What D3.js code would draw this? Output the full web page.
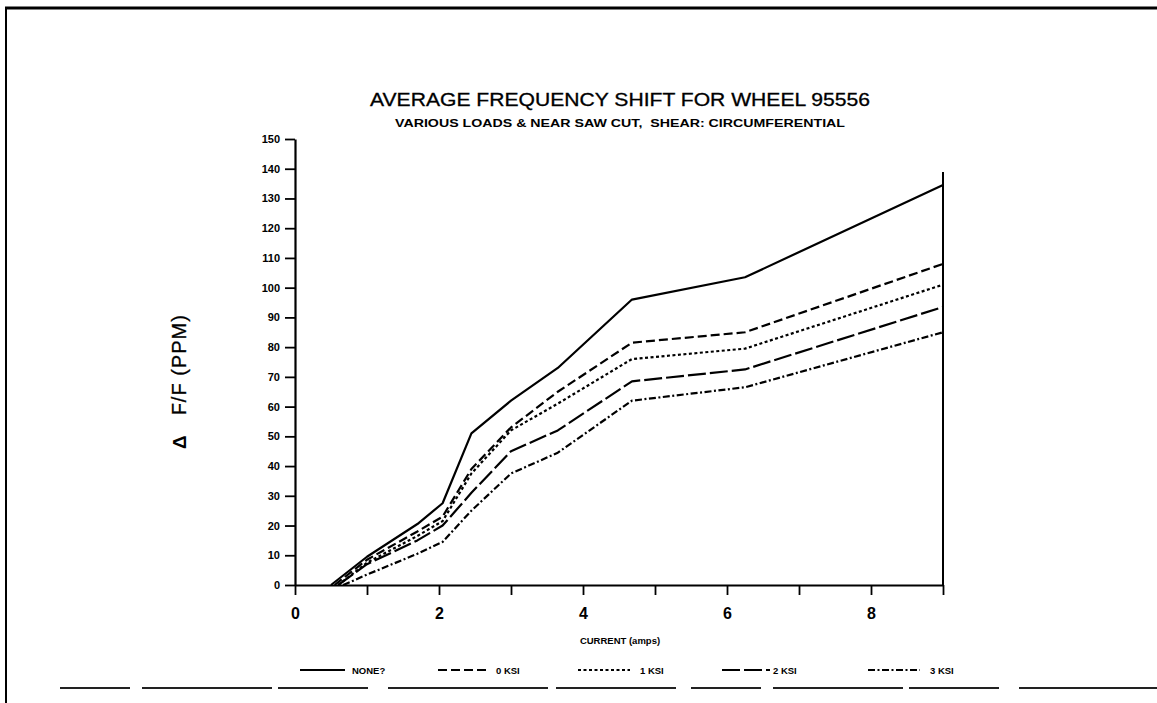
<!DOCTYPE html>
<html><head><meta charset="utf-8">
<script src="https://cdn.jsdelivr.net/npm/d3@7"></script>
<style>body{margin:0;background:#fff}svg{display:block}</style>
</head><body><svg id="c" width="1157" height="703"></svg>
<script>
// ---- data ----
const seriesNames = ["NONE?", "0 KSI", "1 KSI", "2 KSI", "3 KSI"];
const startCurrents = [0.5, 0.55, 0.6, 0.6, 0.67];      // where each curve leaves zero
const currents = [1.0, 1.7, 2.05, 2.45, 3.0, 3.65, 4.68, 6.25, 9.0];
const noneVals = [9.5, 20.5, 27.5, 51, 62, 73, 96, 103.5, 134.5];
const ksi0Vals = [8.5, 18, 23, 39, 53, 65, 81.5, 85, 108];
const ksi1Vals = [7.5, 16.5, 21.5, 37.5, 52, 61, 76, 79.5, 101];
const ksi2Vals = [7, 15, 20, 31, 45, 52, 68.5, 72.5, 93.5];
const ksi3Vals = [3.5, 10.5, 14.5, 25, 37.5, 44.5, 62, 66.5, 85];
const yTickValues = [0,10,20,30,40,50,60,70,80,90,100,110,120,130,140,150];
const xTickValues = [0,1,2,3,4,5,6,7,8,9];
const xTickLabels = ["0","","2","","4","","6","","8",""];
const titleText = "AVERAGE FREQUENCY SHIFT FOR WHEEL 95556";
const subtitleText = "VARIOUS LOADS & NEAR SAW CUT,  SHEAR: CIRCUMFERENTIAL";
const xLabelText = "CURRENT (amps)";

// ---- styles ----
const dashes = [null, "9,4", "3,2.5", "18,4", "7,2.5,2,2.5"];
const legendLineX = [[300,345],[438,490],[578,630],[722,770],[868,920]];
const legendTextX = [352, 496, 640, 773, 930];

const svg = d3.select("#c");
const font = "'Liberation Sans', Arial, Helvetica, sans-serif";

const x = d3.scaleLinear().domain([0, 9]).range([295, 943]);
const y = d3.scaleLinear().domain([0, 150]).range([585, 139]);

// page border
svg.append("line").attr("x1",5).attr("x2",1157).attr("y1",8).attr("y2",8)
  .attr("stroke","#000").attr("stroke-width",3);
svg.append("line").attr("x1",6).attr("x2",6).attr("y1",7).attr("y2",703)
  .attr("stroke","#000").attr("stroke-width",2);
svg.append("line").attr("x1",60).attr("x2",1157).attr("y1",688).attr("y2",688)
  .attr("stroke","#222").attr("stroke-width",2).attr("stroke-dasharray","70,12,130,6,90,20,160,8,120,15");

// titles
svg.append("text").attr("x",620).attr("y",106).attr("text-anchor","middle")
  .attr("font-family",font).attr("font-size",17.5).attr("textLength",500).attr("lengthAdjust","spacingAndGlyphs")
  .attr("stroke","#000").attr("stroke-width",0.3)
  .text(titleText);
svg.append("text").attr("x",620).attr("y",127).attr("text-anchor","middle")
  .attr("font-family",font).attr("font-size",10).attr("font-weight","bold")
  .attr("textLength",450).attr("lengthAdjust","spacingAndGlyphs")
  .style("white-space","pre")
  .text(subtitleText);

// y axis
const yAxis = svg.append("g").attr("transform","translate(295,0)")
  .call(d3.axisLeft(y).tickValues(yTickValues).tickSize(10).tickSizeOuter(0).tickPadding(5));
yAxis.select(".domain").attr("stroke","#000").attr("stroke-width",2.2);
yAxis.selectAll(".tick line").attr("stroke","#000").attr("stroke-width",1.8);
yAxis.selectAll("text").attr("font-family",font).attr("font-size",11).attr("font-weight","bold").attr("fill","#000");

// x axis
const xAxis = svg.append("g").attr("transform","translate(0,585)")
  .call(d3.axisBottom(x).tickValues(xTickValues).tickSize(10).tickSizeOuter(0).tickPadding(13)
    .tickFormat((d,i) => xTickLabels[i]));
xAxis.select(".domain").attr("stroke","#000").attr("stroke-width",2.2);
xAxis.selectAll(".tick line").attr("stroke","#000").attr("stroke-width",1.8);
xAxis.selectAll("text").attr("font-family",font).attr("font-size",16).attr("font-weight","bold").attr("fill","#000");

// right frame line
svg.append("line").attr("x1",x(9)).attr("x2",x(9)).attr("y1",172).attr("y2",y(0))
  .attr("stroke","#000").attr("stroke-width",2);

// axis titles
svg.append("text").attr("x",620).attr("y",644).attr("text-anchor","middle")
  .attr("font-family",font).attr("font-size",9.5).attr("font-weight","bold").text(xLabelText);
const yl = svg.append("text").attr("transform","translate(186,449) rotate(-90)")
  .attr("font-family",font).attr("font-size",20);
yl.append("tspan").attr("font-weight","bold").attr("font-size",19).text("Δ");
yl.append("tspan").attr("dx",20).attr("stroke","#000").attr("stroke-width",0.3)
  .attr("letter-spacing",1).text("F/F (PPM)");

// lines
const allVals = [noneVals, ksi0Vals, ksi1Vals, ksi2Vals, ksi3Vals];
const line = d3.line().x(d => x(d[0])).y(d => y(d[1]));
allVals.forEach((vals, i) => {
  const pts = [[startCurrents[i], 0]].concat(currents.map((c, j) => [c, vals[j]]));
  svg.append("path").datum(pts).attr("d", line)
    .attr("fill","none").attr("stroke","#000").attr("stroke-width",2.2)
    .attr("stroke-linejoin","round")
    .attr("stroke-dasharray", dashes[i]);
});

// legend
seriesNames.forEach((n, i) => {
  svg.append("line").attr("x1",legendLineX[i][0]).attr("x2",legendLineX[i][1])
    .attr("y1",670).attr("y2",670).attr("stroke","#000").attr("stroke-width",1.8)
    .attr("stroke-dasharray", dashes[i]);
  svg.append("text").attr("x",legendTextX[i]).attr("y",673.5)
    .attr("font-family",font).attr("font-size",9.5).attr("font-weight","bold").text(n);
});
</script>
</body></html>
